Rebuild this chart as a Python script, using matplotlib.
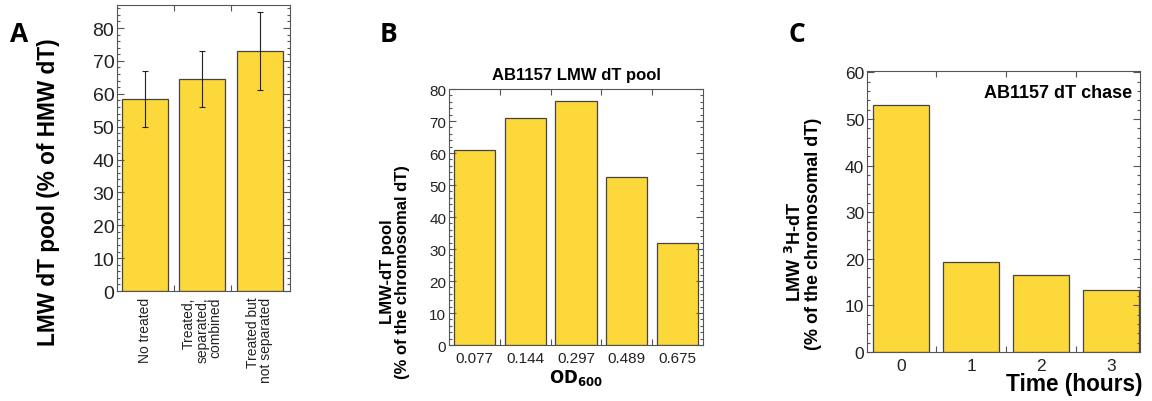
import matplotlib
matplotlib.use('Agg')
import matplotlib.pyplot as plt
from matplotlib.ticker import MultipleLocator, FixedLocator

plt.rcParams['font.family'] = ['Liberation Sans', 'DejaVu Sans']

# panel A
a_labels = ['No treated', 'Treated,\nseparated,\ncombined', 'Treated but\nnot separated']
a_values = [58.5, 64.5, 73]
a_err_low = [50, 56, 61]
a_err_high = [67, 73, 85]

# panel B
b_labels = ['0.077', '0.144', '0.297', '0.489', '0.675']
b_values = [60.8, 70.8, 76.2, 52.6, 31.8]

# panel C
c_labels = ['0', '1', '2', '3']
c_values = [53.1, 19.4, 16.5, 13.3]

bar_color = '#FDD83A'
edge_color = '#444444'
spine_color = '#555555'

fig = plt.figure(figsize=(11.52, 4.02), dpi=100)


def style_axes(ax, n, ymax, tick_size):
    ax.set_xlim(-0.49, n - 0.49)
    ax.set_ylim(0, ymax)
    ax.set_xticks(range(n))
    ax.xaxis.set_minor_locator(FixedLocator([i + 0.5 for i in range(n - 1)]))
    ax.yaxis.set_major_locator(MultipleLocator(10))
    ax.yaxis.set_minor_locator(MultipleLocator(2))
    ax.tick_params(axis='both', which='both', direction='in', top=True, right=True,
                   color=spine_color, width=0.8, labelcolor='#222222', labelsize=tick_size)
    ax.tick_params(axis='y', which='major', length=5, pad=2)
    ax.tick_params(axis='y', which='minor', length=2.5)
    ax.tick_params(axis='x', which='major', length=0, pad=4)
    ax.tick_params(axis='x', which='minor', length=4)
    for s in ax.spines.values():
        s.set_color(spine_color)
        s.set_linewidth(0.8)


# ---- A ----
axA = fig.add_axes([0.1016, 0.2736, 0.1502, 0.7114])
xa = range(len(a_values))
yerr = [[v - lo for v, lo in zip(a_values, a_err_low)],
        [hi - v for v, hi in zip(a_values, a_err_high)]]
axA.bar(xa, a_values, width=0.8, color=bar_color, edgecolor=edge_color, linewidth=0.9,
        yerr=yerr, error_kw=dict(ecolor='#222222', elinewidth=0.8, capsize=2.5, capthick=0.8))
style_axes(axA, 3, 87, 14)
axA.set_xlim(-0.49, 2.53)
axA.set_xticklabels(a_labels, rotation=90, ha='center', va='top', multialignment='right',
                    fontsize=10, linespacing=0.95)
fig.text(49 / 1152, 1 - 192.5 / 402, 'LMW dT pool (% of HMW dT)', rotation=90,
         ha='center', va='center', fontsize=16.3, fontweight='bold')

# ---- B ----
axB = fig.add_axes([0.3898, 0.1393, 0.2205, 0.6368])
axB.bar(range(len(b_values)), b_values, width=0.81, color=bar_color,
        edgecolor=edge_color, linewidth=0.9)
style_axes(axB, 5, 80, 11)
axB.set_xlim(-0.5, 4.5)
axB.set_xticklabels(b_labels)
axB.set_title('AB1157 LMW dT pool', fontsize=12, fontweight='bold', pad=7)
axB.set_xlabel(r'$\mathbf{OD_{600}}$', fontsize=12, labelpad=2)
fig.text(395 / 1152, 1 - 272 / 402, 'LMW-dT pool\n(% of the chromosomal dT)', rotation=90,
         ha='center', va='center', fontsize=12, fontweight='bold', linespacing=1.05)

# ---- C ----
axC = fig.add_axes([0.7526, 0.1219, 0.2370, 0.6990])
axC.bar(range(len(c_values)), c_values, width=0.8, color=bar_color,
        edgecolor=edge_color, linewidth=0.9)
style_axes(axC, 4, 60.3, 12.5)
axC.set_xlim(-0.49, 3.42)
axC.set_xticklabels(c_labels)
axC.text(0.97, 0.955, 'AB1157 dT chase', transform=axC.transAxes, ha='right', va='top',
         fontsize=13, fontweight='bold')
fig.text(1143 / 1152, 1 - 385 / 402, 'Time (hours)', ha='right', va='center',
         fontsize=16.3, fontweight='bold')
fig.text(795 / 1152, 1 - 252 / 402, r'LMW $^{\mathbf{3}}$H-dT', rotation=90,
         ha='center', va='center', fontsize=13, fontweight='bold')
fig.text(814 / 1152, 1 - 234 / 402, '(% of the chromosomal dT)', rotation=90,
         ha='center', va='center', fontsize=13, fontweight='bold')

# panel letters
for x, letter in [(10, 'A'), (380, 'B'), (788, 'C')]:
    fig.text(x / 1152, 1 - 42 / 402, letter, ha='left', va='baseline',
             fontsize=19, fontweight='bold', family=['Open Sans', 'DejaVu Sans'])

fig.savefig('out.png', dpi=100)
